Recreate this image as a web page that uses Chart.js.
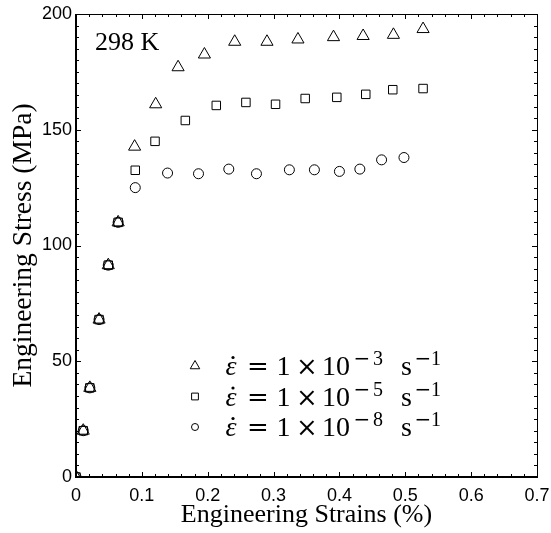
<!DOCTYPE html>
<html lang="en">
<head>
<meta charset="UTF-8">
<title>Engineering stress-strain at 298 K</title>
<script src="https://cdn.jsdelivr.net/npm/chart.js"></script>
<style>
  html, body { margin: 0; padding: 0; background: #fff; }
</style>
</head>
<body>
<canvas id="grafico" width="551" height="533"></canvas>
<script>
// elastic part, common to the three strain rates
const elasticStrain = [0, 0.011, 0.021, 0.035, 0.049, 0.064];
const elasticStress = [0, 20, 38.5, 68, 91.5, 110];

// 1e-3 /s
const strainFast = [0.089, 0.121, 0.155, 0.195, 0.241, 0.290, 0.337, 0.391, 0.436, 0.482, 0.527];
const stressFast = [142.7, 161, 177, 182.5, 188, 188, 189, 190, 190.5, 191, 193.5];

// 1e-5 /s
const strainMid = [0.090, 0.120, 0.166, 0.213, 0.258, 0.303, 0.348, 0.396, 0.440, 0.481, 0.527];
const stressMid = [132.5, 145, 154, 160.5, 161.8, 161, 163.5, 164, 165.3, 167.3, 167.8];

// 1e-8 /s
const strainSlow = [0.090, 0.139, 0.186, 0.232, 0.274, 0.324, 0.362, 0.400, 0.431, 0.464, 0.498];
const stressSlow = [125, 131.3, 131, 133, 131, 132.7, 132.7, 132, 133, 137, 138];

const rateExponents = ['3', '5', '8'];
const xTicks = [0, 0.1, 0.2, 0.3, 0.4, 0.5, 0.6, 0.7];
const yTicks = [0, 50, 100, 150, 200];

function pontos(xs, ys) {
    const todosX = elasticStrain.concat(xs);
    const todosY = elasticStress.concat(ys);
    return todosX.map((v, i) => ({ x: v, y: todosY[i] }));
}

const serif = '"Liberation Serif", "Times New Roman", serif';
const mathOp = '"DejaVu Serif", serif';
const sans = '"Liberation Sans", Arial, sans-serif';

Chart.defaults.color = '#000';

function serie(dados, estilo, raio) {
    return {
        data: dados,
        showLine: false,
        pointStyle: estilo,
        pointRadius: raio,
        pointHoverRadius: raio,
        pointBorderWidth: 1,
        borderColor: '#000',
        pointBackgroundColor: 'rgba(0,0,0,0)'
    };
}

// inward ticks on all four sides plus the frame
const moldura = {
    id: 'moldura',
    afterDraw(chart) {
        const { ctx, chartArea: a, scales: { x, y } } = chart;
        ctx.save();
        ctx.strokeStyle = '#000';
        ctx.lineWidth = 1;
        ctx.beginPath();
        for (let i = 0; i <= 35; i++) {
            const px = Math.round(x.getPixelForValue(i * 0.02)) + 0.5;
            const len = i % 5 === 0 ? 5 : 3;
            ctx.moveTo(px, a.bottom); ctx.lineTo(px, a.bottom - len);
            ctx.moveTo(px, a.top); ctx.lineTo(px, a.top + len);
        }
        for (let i = 0; i <= 40; i++) {
            const py = Math.round(y.getPixelForValue(i * 5)) + 0.5;
            const len = i % 10 === 0 ? 5 : 3;
            ctx.moveTo(a.left, py); ctx.lineTo(a.left + len, py);
            ctx.moveTo(a.right, py); ctx.lineTo(a.right - len, py);
        }
        ctx.stroke();

        ctx.beginPath();
        ctx.moveTo(a.left, a.top + 0.5); ctx.lineTo(a.right + 0.5, a.top + 0.5);
        ctx.lineTo(a.right + 0.5, a.bottom);
        ctx.stroke();
        ctx.lineWidth = 2;
        ctx.beginPath();
        ctx.moveTo(a.left, a.top); ctx.lineTo(a.left, a.bottom);
        ctx.lineTo(a.right + 1, a.bottom);
        ctx.stroke();
        ctx.restore();
    }
};

// temperature label and the strain-rate legend
const anotacoes = {
    id: 'anotacoes',
    afterDraw(chart) {
        const { ctx, chartArea: a } = chart;
        ctx.save();
        ctx.fillStyle = '#000';
        ctx.textBaseline = 'alphabetic';
        ctx.font = '26px ' + serif;
        ctx.textAlign = 'left';
        ctx.fillText('298 K', a.left + 19, a.top + 36);

        const estilos = ['triangle', 'rect', 'circle'];
        const raios = [5.5, 4.8, 3.5];
        const x0 = a.left + 155;   // centre of the epsilon
        const base0 = a.top + 361;
        for (let k = 0; k < 3; k++) {
            const base = base0 + k * 30.5;
            ctx.strokeStyle = '#000';
            ctx.fillStyle = 'rgba(0,0,0,0)';
            Chart.helpers.drawPoint(ctx, { pointStyle: estilos[k], radius: raios[k], rotation: 0, borderWidth: 1 },
                a.left + 119, base - 9);
            ctx.fillStyle = '#000';
            ctx.textAlign = 'center';
            // rate symbol: epsilon with a dot
            ctx.font = 'italic 28px ' + serif;
            ctx.fillText('ε', x0, base);
            ctx.beginPath();
            ctx.arc(x0 + 2, base - 17.5, 1.6, 0, 2 * Math.PI);
            ctx.fill();
            ctx.font = '26px ' + mathOp;
            ctx.fillText('=', x0 + 27, base);
            ctx.fillText('×', x0 + 76, base);
            ctx.font = '28px ' + serif;
            ctx.fillText('1', x0 + 52.5, base);
            ctx.fillText('10', x0 + 105, base);
            ctx.fillText('s', x0 + 175.5, base);
            ctx.font = '20px ' + mathOp;
            ctx.fillText('−', x0 + 131, base - 10);
            ctx.fillText('−', x0 + 192, base - 10);
            ctx.font = '20px ' + serif;
            ctx.fillText(rateExponents[k], x0 + 147, base - 10);
            ctx.fillText('1', x0 + 205, base - 10);
        }
        ctx.restore();
    }
};

new Chart(document.getElementById('grafico'), {
    type: 'scatter',
    data: {
        datasets: [
            serie(pontos(strainMid, stressMid), 'rect', 6),
            serie(pontos(strainSlow, stressSlow), 'circle', 5),
            serie(pontos(strainFast, stressFast), 'triangle', 7)
        ]
    },
    options: {
        responsive: false,
        animation: false,
        events: [],
        layout: { padding: { top: 14, right: 14, left: 0, bottom: 0 } },
        plugins: { legend: { display: false }, tooltip: { enabled: false } },
        scales: {
            x: {
                type: 'linear',
                min: 0, max: 0.7,
                grid: { display: false, drawTicks: false },
                border: { display: false },
                afterBuildTicks: s => { s.ticks = xTicks.map(v => ({ value: v })); },
                afterFit: s => { s.height = 56; s.paddingLeft = 0; s.paddingRight = 0; },
                ticks: {
                    autoSkip: false, maxRotation: 0, padding: 8,
                    font: { family: sans, size: 18 },
                    callback: v => v === 0 ? '0' : v.toFixed(1)
                },
                title: {
                    display: true, text: 'Engineering Strains (%)',
                    font: { family: serif, size: 26 },
                    padding: { top: 0, bottom: 2 }
                }
            },
            y: {
                type: 'linear',
                min: 0, max: 200,
                grid: { display: false, drawTicks: false },
                border: { display: false },
                afterBuildTicks: s => { s.ticks = yTicks.map(v => ({ value: v })); },
                afterFit: s => { s.width = 76; s.paddingTop = 0; s.paddingBottom = 0; },
                ticks: {
                    autoSkip: false, padding: 4,
                    font: { family: sans, size: 18 }
                },
                title: {
                    display: true, text: 'Engineering Stress (MPa)',
                    font: { family: serif, size: 27.5 },
                    padding: { top: 7, bottom: 0 }
                }
            }
        }
    },
    plugins: [moldura, anotacoes]
});
</script>
</body>
</html>
